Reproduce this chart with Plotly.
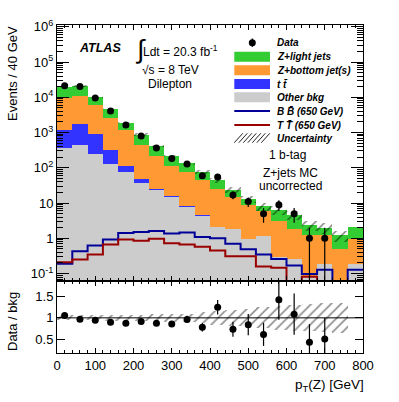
import numpy as np
import plotly.graph_objects as go
from plotly.subplots import make_subplots

# ---- data: 40 GeV bins of pT(Z), 1 b-tag, dilepton ----------------------
pt_centers = [20, 60, 100, 140, 180, 220, 260, 300, 340, 380,
              420, 460, 500, 540, 580, 620, 660, 700, 740, 780]

bkg_total = [20200, 21000, 10200, 4540, 1890, 877, 417, 216, 134, 77,
             44, 23.3, 13.1, 8.2, 6.3, 4.6, 2.35, 2.0, 1.22, 2.1]
z_bottom = [8640, 9200, 4975, 2318, 1048, 405, 198, 100, 68.5, 41,
            23, 13.4, 8.1, 4.8, 2.77, 1.63, 1.13, 1.03, 0.51, 0.79]
ttbar = [800, 1260, 685, 182, 41, 10.5, 2.4, 1.4, 0.8, 0.25,
         0.05, 0.03, 0.02, 0.01, 0, 0, 0, 0, 0, 0]
other_bkg = [365, 434, 251, 130, 75, 38, 22.8, 14.4, 7.7, 4.25,
             2.1, 1.87, 0.94, 1.14, 0.29, 0.26, 0.088, 0.19, 0, 0.19]

data_counts = [21300, 20300, 9600, 4080, 1650, 800, 365, 184, 129, 60,
               55, 17, 11, 5, 9, 5, 1, 1, np.nan, np.nan]

# relative background uncertainty (hatched band), last bin has none
bkg_rel_unc = [0.06, 0.06, 0.06, 0.065, 0.07, 0.075, 0.08, 0.09, 0.10, 0.13,
               0.16, 0.19, 0.22, 0.25, 0.28, 0.30, 0.32, 0.34, 0.36, np.nan]

sig_bb650 = [0.19, 0.43, 0.63, 0.92, 1.42, 1.51, 1.62, 1.36, 1.46, 1.09,
             1.0, 0.70, 0.49, 0.35, 0.26, 0.17, 0.098, 0.128, 0, 0.128]
sig_tt650 = [0.21, 0.25, 0.35, 0.67, 0.92, 0.86, 0.97, 0.72, 0.67, 0.58,
             0.45, 0.31, 0.31, 0.16, 0.146, 0, 0.082, 0, 0, 0]

y_tickvals = [1e-1, 1, 10, 1e2, 1e3, 1e4, 1e5, 1e6]
y_ticktext = ["10<sup>-1</sup>", "1", "10", "10<sup>2</sup>", "10<sup>3</sup>",
              "10<sup>4</sup>", "10<sup>5</sup>", "10<sup>6</sup>"]

# ---- style ---------------------------------------------------------------
C_ZLIGHT = "#33cc33"
C_ZB = "#ff9933"
C_TT = "#3333ff"
C_OTHER = "#cccccc"
C_BB = "#000099"
C_TTV = "#990000"
FONT = "Liberation Sans, Arial, sans-serif"

W, H = 399, 402
L, R, T, B = 57, 36, 25, 49


def px(x):
    return (x - L) / (W - L - R)


def py(y):
    return (H - B - y) / (H - T - B)


x = np.array(pt_centers, dtype=float)
total = np.array(bkg_total)
cum_zb = np.array(z_bottom) + np.array(ttbar) + np.array(other_bkg)
cum_tt = np.array(ttbar) + np.array(other_bkg)
other = np.array(other_bkg)
data = np.array(data_counts, dtype=float)
unc = np.array(bkg_rel_unc, dtype=float)
edges = np.append(x - 20, x[-1] + 20)

fig = make_subplots(rows=2, cols=1, shared_xaxes=True, vertical_spacing=0,
                    row_heights=[256, 72])

# stacked backgrounds drawn as overlaid cumulative bars
for vals, col in [(total, C_ZLIGHT), (cum_zb, C_ZB), (cum_tt, C_TT), (other, C_OTHER)]:
    fig.add_trace(go.Bar(x=x, y=vals, width=40,
                         marker=dict(color=col, line=dict(width=0)),
                         showlegend=False, hoverinfo="skip"), row=1, col=1)

hatch = dict(shape="/", fgcolor="#000000", bgcolor="rgba(0,0,0,0)",
             size=7, solidity=0.22, fillmode="overlay")
ok = ~np.isnan(unc)
fig.add_trace(go.Bar(x=x[ok], y=2 * unc[ok] * total[ok], base=total[ok] * (1 - unc[ok]),
                     width=40, marker=dict(color="rgba(0,0,0,0)", line=dict(width=0),
                                           pattern=hatch),
                     showlegend=False, hoverinfo="skip"), row=1, col=1)

# signal step histograms
for vals, col in [(sig_bb650, C_BB), (sig_tt650, C_TTV)]:
    v = np.array(vals, dtype=float)
    v = np.where(v > 0, v, 1e-4)
    fig.add_trace(go.Scatter(x=edges, y=np.append(v, v[-1]), mode="lines",
                             line=dict(color=col, width=2, shape="hv"),
                             showlegend=False, hoverinfo="skip"), row=1, col=1)

fig.add_trace(go.Scatter(x=x, y=data, mode="markers",
                         marker=dict(color="black", size=7),
                         error_y=dict(type="data", array=np.sqrt(data), color="black",
                                      thickness=1.2, width=0),
                         showlegend=False), row=1, col=1)

# ---- ratio panel ---------------------------------------------------------
fig.add_trace(go.Bar(x=x[ok], y=2 * unc[ok], base=1 - unc[ok], width=40,
                     marker=dict(color="rgba(0,0,0,0)", line=dict(width=0), pattern=hatch),
                     showlegend=False, hoverinfo="skip"), row=2, col=1)
fig.add_shape(type="line", x0=0, x1=800, y0=1, y1=1, xref="x2", yref="y2",
              line=dict(color="black", width=1))
ratio = data / total
ratio_err = np.sqrt(data) / total
fig.add_trace(go.Scatter(x=x, y=ratio, mode="markers",
                         marker=dict(color="black", size=7),
                         error_y=dict(type="data", array=ratio_err, color="black",
                                      thickness=1.2, width=0),
                         showlegend=False), row=2, col=1)

# ---- axes ----------------------------------------------------------------
axis_common = dict(showline=True, linecolor="black", linewidth=1, mirror="allticks",
                   ticks="inside", tickcolor="black", showgrid=False, zeroline=False,
                   tickfont=dict(family=FONT, size=13, color="black"))
fig.update_xaxes(range=[0, 800], tick0=0, dtick=100, ticklen=5,
                 minor=dict(ticks="inside", ticklen=3, dtick=20, tickcolor="black"),
                 **axis_common)
fig.update_xaxes(showticklabels=False, row=1, col=1)
fig.update_xaxes(showticklabels=True, row=2, col=1)

minor_log = [k * 10.0 ** e for e in range(-2, 6) for k in range(2, 10)]
fig.update_yaxes(type="log", range=[-1.21, 6.05], tickvals=y_tickvals, ticktext=y_ticktext,
                 ticklen=12, minor=dict(tickvals=minor_log, ticks="inside", ticklen=6,
                                        tickcolor="black"),
                 row=1, col=1, **axis_common)
fig.update_yaxes(range=[0.17, 1.87], tickvals=[0.5, 1, 1.5], ticktext=["0.5", "1", "1.5"],
                 ticklen=8, row=2, col=1, **axis_common)


# ---- text ----------------------------------------------------------------
def text(s, x0, y0, size, xanchor="left", angle=0, **kw):
    # annotations carry ~3px of padding; compensate so text edges land where intended
    shift = {"left": -3, "right": 3}.get(xanchor, 0) if angle == 0 else 0
    fig.add_annotation(text=s, x=px(x0 + shift), y=py(y0), xref="paper", yref="paper",
                       showarrow=False, xanchor=xanchor, yanchor="middle",
                       textangle=angle,
                       font=dict(family=FONT, size=size, color="black"), **kw)


text("<b><i>ATLAS</i></b>", 80, 47.5, 12.5)
text("∫", 136, 49, 26)
text("Ldt = 20.3 fb<sup>-1</sup>", 144, 51, 12)
text("√s = 8 TeV", 170, 70.5, 12, xanchor="center")
text("Dilepton", 170, 83.5, 12, xanchor="center")
text("1 b-tag", 287, 155, 12, xanchor="center")
text("Z+jets MC", 290, 173, 12, xanchor="center")
text("uncorrected", 290, 186, 12, xanchor="center")
text("Events / 40 GeV", 12.5, 73.5, 13, xanchor="center", angle=-90)
text("Data / bkg", 12.5, 321.5, 13, xanchor="center", angle=-90)
text("p<sub>T</sub>(Z) [GeV]", 363, 385, 13.5, xanchor="right")

# ---- legend (ROOT style) -------------------------------------------------
leg_x0, leg_x1, leg_tx = 234.3, 270, 277.7
fig.add_shape(type="line", x0=px(252.3), x1=px(252.3), y0=py(38.5), y1=py(47),
              xref="paper", yref="paper", line=dict(color="black", width=1.2))
fig.add_shape(type="circle", x0=px(248.8), x1=px(255.8), y0=py(39.2), y1=py(46.2),
              xref="paper", yref="paper", fillcolor="black", line=dict(width=0))
for (ya, yb), col in [((51.7, 61.7), C_ZLIGHT), ((65.3, 75.3), C_ZB),
                      ((79, 89), C_TT), ((92.3, 102.3), C_OTHER)]:
    fig.add_shape(type="rect", x0=px(leg_x0), x1=px(leg_x1), y0=py(yb), y1=py(ya),
                  xref="paper", yref="paper", fillcolor=col, line=dict(width=0))
for yl, col in [(111, C_BB), (125, C_TTV)]:
    fig.add_shape(type="line", x0=px(leg_x0), x1=px(leg_x1), y0=py(yl), y1=py(yl),
                  xref="paper", yref="paper", line=dict(color=col, width=2))
for k in range(7):
    xs = leg_x0 + k * 4.5
    fig.add_shape(type="line", x0=px(xs), x1=px(xs + 8.5), y0=py(142.7), y1=py(133.3),
                  xref="paper", yref="paper", line=dict(color="#222222", width=1))

for s, yl in [("Data", 42.7), ("Z+light jets", 56.7), ("Z+bottom jet(s)", 70.3),
              ("t t\u0304", 84), ("Other bkg", 97.3), ("B B\u0304 (650 GeV)", 111),
              ("T T\u0304 (650 GeV)", 125), ("Uncertainty", 138)]:
    text(f"<b><i>{s}</i></b>", leg_tx, yl, 10)

fig.update_layout(
    width=W, height=H, barmode="overlay", bargap=0,
    margin=dict(l=L, r=R, t=T, b=B, autoexpand=False),
    paper_bgcolor="white", plot_bgcolor="white",
    showlegend=False, font=dict(family=FONT, color="black"),
)

# the default page body has an 8px margin; drop it so the figure fills the window
fig.write_html("out.html", config={"displayModeBar": False},
               post_script="document.body.style.margin='0px';")
